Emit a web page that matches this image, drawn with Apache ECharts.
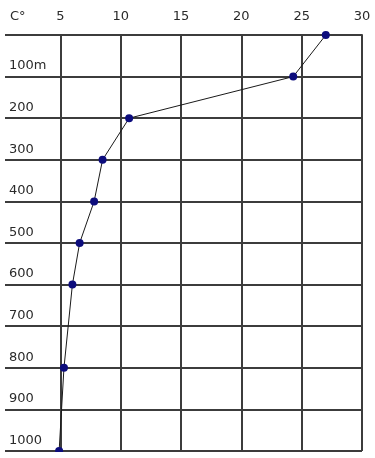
<!DOCTYPE html>
<html>
<head>
<meta charset="utf-8">
<style>
  html, body { margin: 0; padding: 0; background: #ffffff; }
  #chart { width: 375px; height: 458px; }
</style>
<script src="https://cdn.jsdelivr.net/npm/echarts@6/dist/echarts.min.js"></script>
</head>
<body>
<div id="chart"></div>
<script>
// Depth (m) of each measured point
var depths = [0, 100, 200, 300, 400, 500, 600, 800, 1000];
// Temperature (°C) at each depth
var temps = [27.0, 24.3, 10.7, 8.5, 7.8, 6.6, 6.0, 5.3, 4.9];
// Tick labels
var tempTickValues = [0, 5, 10, 15, 20, 25, 30];
var tempTickLabels = ['C°', '5', '10', '15', '20', '25', '30'];
var depthTickValues = [0, 100, 200, 300, 400, 500, 600, 700, 800, 900, 1000];
var depthTickLabels = ['', '100m', '200', '300', '400', '500', '600', '700', '800', '900', '1000'];

var points = depths.map(function (d, i) { return [temps[i], d]; });

var gridLine = { show: true, lineStyle: { color: '#3c3c3c', width: 2 } };
var labelFont = { fontFamily: 'DejaVu Sans', fontSize: 13, color: '#2a2a2a' };

var chart = echarts.init(document.getElementById('chart'), null, { renderer: 'canvas' });
chart.setOption({
  animation: false,
  backgroundColor: '#ffffff',
  grid: { left: -2, right: 13, top: 35, bottom: 7, containLabel: false },
  xAxis: {
    type: 'value',
    position: 'top',
    min: 0, max: 30, interval: 5,
    axisLine: { show: true, lineStyle: { color: '#3c3c3c', width: 2 } },
    axisTick: { show: false },
    splitLine: gridLine,
    axisLabel: Object.assign({
      margin: 12,
      showMinLabel: true,
      showMaxLabel: true,
      alignMinLabel: 'left',
      formatter: function (v) {
        var i = tempTickValues.indexOf(v);
        var t = i >= 0 ? tempTickLabels[i] : '';
        return i === 0 ? '{u|' + t + '}' : t;
      },
      rich: { u: { fontFamily: 'DejaVu Sans', fontSize: 13, color: '#2a2a2a', padding: [0, 0, 0, 10] } }
    }, labelFont)
  },
  yAxis: {
    type: 'value',
    inverse: true,
    min: 0, max: 1000, interval: 100,
    axisLine: { show: false },
    axisTick: { show: false },
    splitLine: gridLine,
    axisLabel: Object.assign({
      inside: true,
      margin: 9,
      align: 'left',
      verticalAlign: 'bottom',
      padding: [0, 0, 4, 0],
      showMinLabel: true,
      showMaxLabel: true,
      formatter: function (v) {
        var i = depthTickValues.indexOf(v);
        return i >= 0 ? depthTickLabels[i] : '';
      }
    }, labelFont)
  },
  series: [{
    type: 'line',
    data: points,
    symbol: 'circle',
    symbolSize: 8,
    showSymbol: true,
    clip: false,
    lineStyle: { color: '#1a1a1a', width: 1 },
    itemStyle: { color: '#0c0c7c' },
    z: 3
  }],
  graphic: [{
    type: 'rect',
    left: 0, top: 452,
    shape: { width: 375, height: 6 },
    style: { fill: '#ffffff' },
    z: 100
  }, {
    type: 'rect',
    left: 0, top: 25,
    shape: { width: 5, height: 430 },
    style: { fill: '#ffffff' },
    z: 100
  }]
});
</script>
</body>
</html>
